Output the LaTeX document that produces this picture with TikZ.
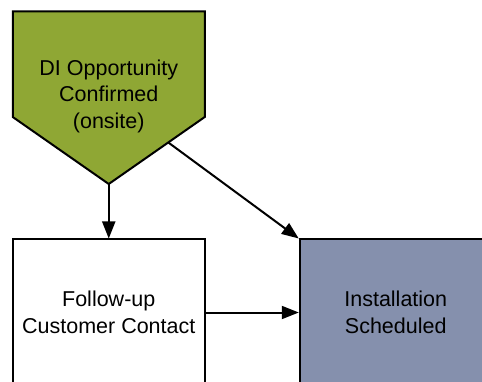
\documentclass[tikz,border=0pt]{standalone}
\usepackage{fontspec}
\setmainfont{Liberation Sans}
\usetikzlibrary{positioning,arrows.meta,calc}
\definecolor{oppgreen}{HTML}{8FA734}
\definecolor{slateblue}{HTML}{8590AD}
\tikzset{
    every node/.style={font=\fontsize{21.5}{26.5}\selectfont, align=center},
    stepbox/.style={draw=black, line width=2pt, minimum width=192pt, minimum height=146pt},
    donebox/.style={stepbox, fill=slateblue},
    arrow/.style={-{Triangle[length=17pt,width=13pt]}, line width=2pt},
}
\begin{document}
\begin{tikzpicture}[x=1pt, y=-1pt, node distance=0pt and 93pt]
\useasboundingbox (0,0) rectangle (482,382);
% off-page connector at the top
\draw[fill=oppgreen, line width=2pt, line join=miter]
    (12.75,11.5) -- (204.75,11.5) -- (204.75,117) -- (108.75,184) -- (12.75,117) -- cycle;
\coordinate (opp-tip) at (108.75,184);
\coordinate (opp-side) at ($(204.75,117)!0.38!(108.75,184)$);
\node (opp) at (108.75,96) {DI Opportunity\\Confirmed\\(onsite)};

% process boxes (cut off by the page at the bottom)
\node[stepbox] (contact) at (108.75,312.5) {Follow-up\\Customer Contact};
\node[donebox, right=of contact] (install) {Installation\\Scheduled};

\draw[arrow] (opp-tip) -- (contact);
\draw[arrow] (opp-side) -- (install.north west);
\draw[arrow] (contact) -- (install);

\end{tikzpicture}
\end{document}
